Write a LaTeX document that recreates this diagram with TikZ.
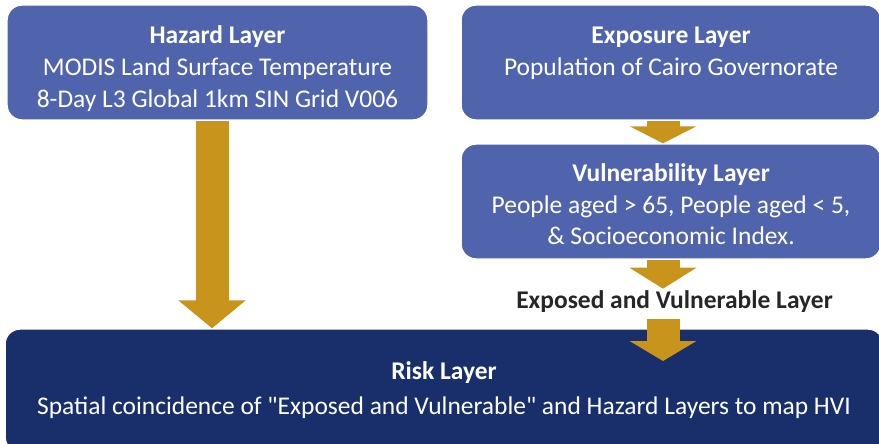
\documentclass[tikz,border=0pt]{standalone}
\usepackage{fontspec}
\setmainfont{Carlito}
\usetikzlibrary{arrows.meta}
\definecolor{layerblue}{RGB}{80,99,173}
\definecolor{risknavy}{RGB}{24,47,107}
\definecolor{arrowgold}{RGB}{200,148,28}
\newcommand{\toppad}[1]{\rule{0pt}{#1}}

\begin{document}
\begin{tikzpicture}[x=0.02cm, y=-0.02cm,
    layerbox/.style={fill=layerblue, draw=white, line width=0.8pt, rounded corners=0.3cm, text=white, align=center, inner sep=0pt, font=\fontsize{14.5}{18}\selectfont},
    blockarrow/.style={draw=arrowgold, line width=0.66cm, -{Triangle[length=#1, width=1.32cm]}},
    blockarrow/.default=0.42cm]
    \useasboundingbox (0,0) rectangle (879,443);
    \clip (0,0) rectangle (879,443);

    \node[layerbox, minimum width=8.42cm, minimum height=2.3cm] (hazard) at (217.5, 62.5) {\toppad{17pt}\textbf{Hazard Layer}\\MODIS Land Surface Temperature\\8-Day L3 Global 1km SIN Grid V006};
    \node[layerbox, minimum width=8.4cm, minimum height=2.3cm] (exposure) at (671, 62.5) {\toppad{20pt}\textbf{Exposure Layer}\\Population of Cairo Governorate\\\strut};
    \node[layerbox, minimum width=8.4cm, minimum height=2.3cm] (vuln) at (671, 201.5) {\toppad{13.5pt}\textbf{Vulnerability Layer}\\People aged > 65, People aged < 5,\\\& Socioeconomic Index.};
    \node[font=\fontsize{14.5}{18}\selectfont\bfseries, text=black!85, inner sep=0pt] (expvuln) at (674.5, 302) {Exposed and Vulnerable Layer};
    \node[layerbox, fill=risknavy, minimum width=17.56cm, minimum height=2.46cm] (risk) at (444, 390.5) {\textbf{Risk Layer}\\[2pt]Spatial coincidence of \textquotedbl Exposed and Vulnerable\textquotedbl{} and Hazard Layers to map HVI};

    % gold block arrows
    \coordinate (risktip) at (663, 361);
    \draw[blockarrow=0.56cm] ([xshift=-0.11cm]hazard.south) -- ([xshift=-0.11cm]hazard.south |- risk.north);
    \draw[blockarrow=0.34cm] ([xshift=-0.16cm]exposure.south) -- ([xshift=-0.16cm]exposure.south |- vuln.north);
    \draw[blockarrow] ([xshift=-0.16cm]vuln.south) -- ([xshift=-0.16cm, yshift=0.04cm]vuln.south |- expvuln.north);
    \draw[blockarrow=0.4cm] ([yshift=-0.12cm]expvuln.south -| risktip) -- (risktip);
\end{tikzpicture}
\end{document}
